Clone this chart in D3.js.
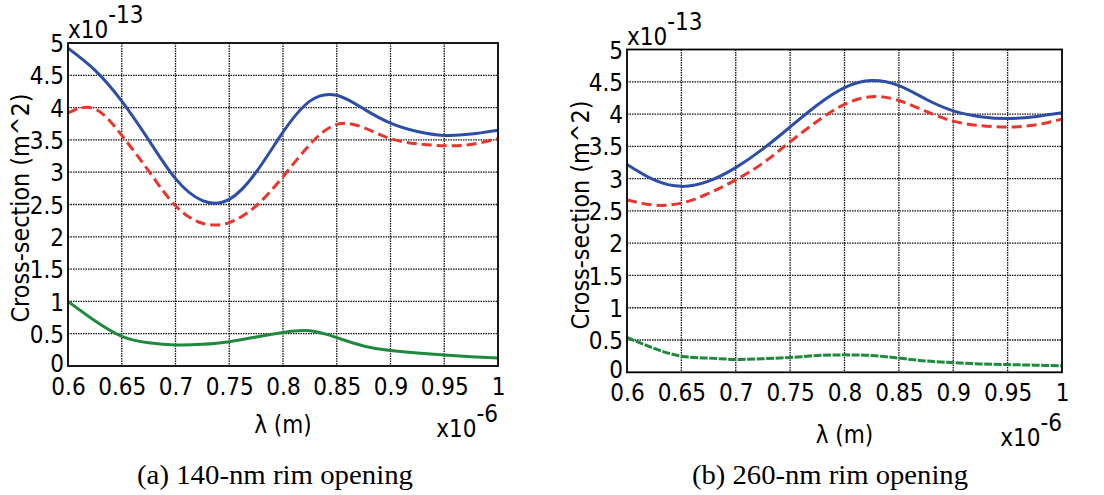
<!DOCTYPE html>
<html>
<head>
<meta charset="utf-8">
<script src="https://cdn.jsdelivr.net/npm/d3@7"></script>
<style>
  html, body { margin: 0; padding: 0; background: #fff; }
  svg { display: block; }
  .lbl { font-family: "DejaVu Sans Condensed", "DejaVu Sans", sans-serif; font-stretch: condensed; fill: #000; }
  .cap { font-family: "Liberation Serif", "DejaVu Serif", serif; fill: #000; }
</style>
</head>
<body>
<svg id="chart" width="1104" height="495"></svg>
<script>
// Wavelength (x10^-6 m)
const lambda = [0.6, 0.625, 0.65, 0.675, 0.7, 0.725, 0.75, 0.775, 0.8, 0.825, 0.85, 0.875, 0.9, 0.925, 0.95, 0.975, 1.0];

// (a) 140-nm rim opening, cross-section (x10^-13 m^2)
const aBlue  = [4.92, 4.58, 4.10, 3.50, 2.90, 2.56, 2.58, 3.00, 3.62, 4.10, 4.19, 3.98, 3.76, 3.63, 3.57, 3.59, 3.65];
const aRed   = [3.92, 3.98, 3.57, 3.02, 2.48, 2.21, 2.22, 2.48, 2.93, 3.43, 3.74, 3.69, 3.52, 3.44, 3.41, 3.43, 3.52];
const aGreen = [1.00, 0.70, 0.46, 0.36, 0.325, 0.335, 0.376, 0.45, 0.52, 0.545, 0.44, 0.31, 0.24, 0.20, 0.17, 0.145, 0.125];

// (b) 260-nm rim opening, cross-section (x10^-13 m^2)
const bBlue  = [3.22, 2.98, 2.88, 2.96, 3.17, 3.46, 3.80, 4.14, 4.41, 4.52, 4.44, 4.23, 4.05, 3.96, 3.93, 3.96, 4.02];
const bRed   = [2.67, 2.59, 2.62, 2.77, 2.98, 3.24, 3.57, 3.89, 4.15, 4.27, 4.21, 4.04, 3.89, 3.82, 3.80, 3.83, 3.92];
const bGreen = [0.54, 0.37, 0.25, 0.22, 0.20, 0.21, 0.23, 0.26, 0.27, 0.26, 0.22, 0.175, 0.15, 0.13, 0.12, 0.11, 0.10];

const xTicks = [0.6, 0.65, 0.7, 0.75, 0.8, 0.85, 0.9, 0.95, 1];
const yTicks = [0, 0.5, 1, 1.5, 2, 2.5, 3, 3.5, 4, 4.5, 5];
const xLabel = "λ (m)";
const yLabel = "Cross-section (m^2)";
const xExp = "-6";
const yExp = "-13";
const captions = ["(a) 140-nm rim opening", "(b) 260-nm rim opening"];

const svg = d3.select("#chart");

function panel(p) {
  const x = d3.scaleLinear().domain([0.6, 1.0]).range([p.x0, p.x1]);
  const y = d3.scaleLinear().domain([0, 5]).range([p.y1, p.y0]);
  const g = svg.append("g");

  // grid
  g.selectAll(".vg").data(xTicks.slice(1, -1)).join("line")
    .attr("x1", d => x(d)).attr("x2", d => x(d))
    .attr("y1", p.y0).attr("y2", p.y1)
    .attr("stroke", "#111").attr("stroke-width", 1.3).attr("stroke-dasharray", "1.5,1");
  g.selectAll(".hg").data(yTicks.slice(1, -1)).join("line")
    .attr("x1", p.x0).attr("x2", p.x1)
    .attr("y1", d => y(d)).attr("y2", d => y(d))
    .attr("stroke", "#111").attr("stroke-width", 1.3).attr("stroke-dasharray", "1.5,1");

  // axes via d3
  const xAxis = d3.axisBottom(x).tickValues(xTicks).tickSize(0).tickPadding(12).tickFormat(d => String(+d.toFixed(2)));
  const yAxis = d3.axisLeft(y).tickValues(yTicks).tickSize(0).tickPadding(4).tickFormat(d => String(d));
  const gx = g.append("g").attr("transform", `translate(0,${p.y1})`).call(xAxis);
  const gy = g.append("g").attr("transform", `translate(${p.x0},0)`).call(yAxis);
  [gx, gy].forEach(a => {
    a.select(".domain").remove();
    a.selectAll("text").attr("class", "lbl").style("font-size", "24px").attr("fill", "#000");
  });
  gx.selectAll("text").attr("dy", "0.71em");
  gy.selectAll("text").attr("dy", "0.36em");
  gy.selectAll("text").filter(d => d === 0).attr("dy", "0.22em");

  // lines
  const line = d3.line().x((d, i) => x(lambda[i])).y(d => y(d)).curve(d3.curveNatural);
  const clipId = "clip" + p.id;
  svg.append("clipPath").attr("id", clipId).append("rect")
    .attr("x", p.x0).attr("y", p.y0).attr("width", p.x1 - p.x0).attr("height", p.y1 - p.y0);
  const lg = g.append("g").attr("clip-path", `url(#${clipId})`);
  lg.append("path").datum(p.green).attr("d", line).attr("fill", "none")
    .attr("stroke", "#1f8a3e").attr("stroke-width", 3).attr("stroke-dasharray", p.greenDash);
  lg.append("path").datum(p.red).attr("d", line).attr("fill", "none")
    .attr("stroke", "#e8362c").attr("stroke-width", 3).attr("stroke-dasharray", "10,5");
  lg.append("path").datum(p.blue).attr("d", line).attr("fill", "none")
    .attr("stroke", "#2c4ea8").attr("stroke-width", 3);

  // frame
  g.append("rect").attr("x", p.x0).attr("y", p.y0).attr("width", p.x1 - p.x0).attr("height", p.y1 - p.y0)
    .attr("fill", "none").attr("stroke", "#000").attr("stroke-width", 1.8);

  // y exponent
  const ye = g.append("text").attr("class", "lbl").style("font-size", "24px")
    .attr("x", p.x0).attr("y", p.yExpY);
  ye.append("tspan").text("x10");
  ye.append("tspan").attr("dy", -15).text(yExp);

  // x exponent
  const xe = g.append("text").attr("class", "lbl").style("font-size", "24px")
    .attr("x", p.x1).attr("y", p.xExpY).attr("text-anchor", "end");
  xe.append("tspan").text("x10");
  xe.append("tspan").attr("dy", -15).text(xExp);

  // x label
  g.append("text").attr("class", "lbl").style("font-size", "24px")
    .attr("x", (p.x0 + p.x1) / 2).attr("y", p.xLabY).attr("text-anchor", "middle").text(xLabel);

  // y label
  g.append("text").attr("class", "lbl").style("font-size", "24px")
    .attr("transform", `translate(${p.yLabX},${p.yLabCY}) rotate(-90)`)
    .attr("text-anchor", "middle").attr("textLength", 229).attr("lengthAdjust", "spacingAndGlyphs").text(yLabel);

  // caption
  g.append("text").attr("class", "cap").style("font-size", "27px")
    .attr("x", p.capX).attr("y", 484).attr("text-anchor", "middle")
    .attr("textLength", 276).attr("lengthAdjust", "spacingAndGlyphs").text(p.caption);
}

panel({ id: "a", x0: 68, x1: 498, y0: 43, y1: 366, blue: aBlue, red: aRed, green: aGreen, greenDash: null,
        yExpY: 38, xExpY: 437, xLabY: 433, yLabX: 29, yLabCY: 208, capX: 275, caption: captions[0] });
panel({ id: "b", x0: 627, x1: 1062, y0: 49.5, y1: 372.3, blue: bBlue, red: bRed, green: bGreen, greenDash: "8,1.5",
        yExpY: 45, xExpY: 446, xLabY: 443, yLabX: 589, yLabCY: 215, capX: 830, caption: captions[1] });
</script>
</body>
</html>
